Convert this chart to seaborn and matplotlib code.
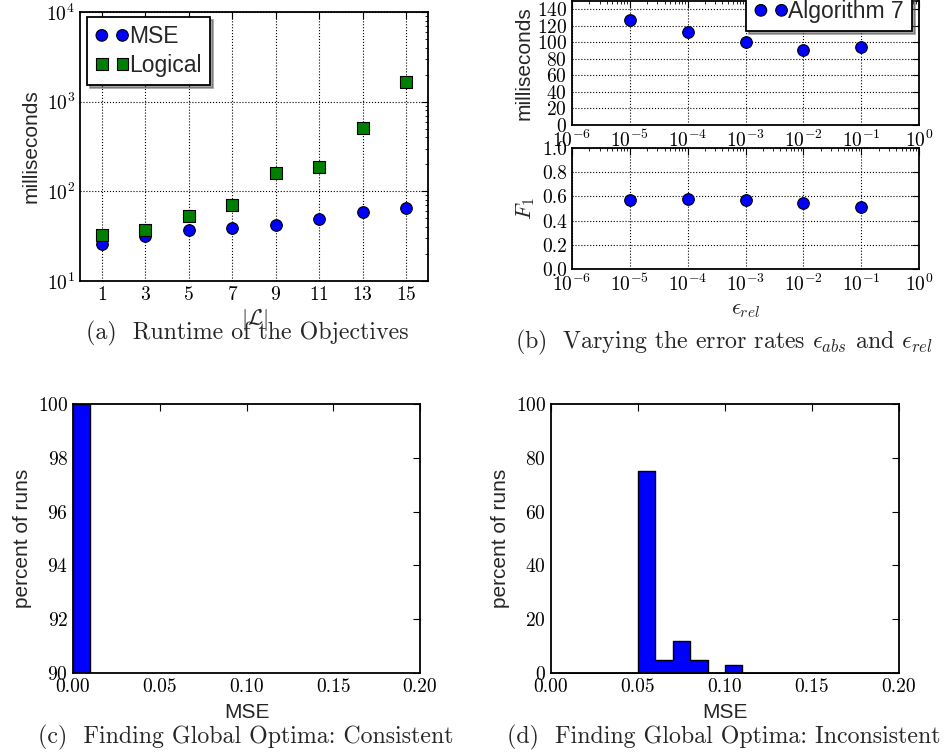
import numpy as np
import pandas as pd
import matplotlib
matplotlib.use("Agg")
import matplotlib.pyplot as plt
import seaborn as sns

# ---------------- data ----------------
n_labels = [1, 3, 5, 7, 9, 11, 13, 15]
mse_ms = [26, 32, 37, 38.7, 41.8, 49, 58.5, 64.7]
logical_ms = [32.4, 37, 53, 70, 162, 189, 511, 1652]

eps_rel = [1e-5, 1e-4, 1e-3, 1e-2, 1e-1]
alg7_ms = [127, 113, 100.5, 90.7, 94.4]
alg7_f1 = [0.571, 0.577, 0.574, 0.544, 0.516]

hist_edges = [0.00, 0.01, 0.02, 0.03, 0.04, 0.05, 0.06, 0.07, 0.08, 0.09, 0.10,
              0.11, 0.12, 0.13, 0.14, 0.15, 0.16, 0.17, 0.18, 0.19, 0.20]
consistent_pct = [100, 0, 0, 0, 0, 0, 0, 0, 0, 0, 0, 0, 0, 0, 0, 0, 0, 0, 0, 0]
inconsistent_pct = [0, 0, 0, 0, 0, 75, 5, 12, 5, 0, 3, 0, 0, 0, 0, 0, 0, 0, 0, 0]

captions = ["(a)  Runtime of the Objectives",
            r"(b)  Varying the error rates $\epsilon_{abs}$ and $\epsilon_{rel}$",
            "(c)  Finding Global Optima: Consistent",
            "(d)  Finding Global Optima: Inconsistent"]

# ---------------- style ----------------
sns.set_style("white")
plt.rcParams.update({
    "font.family": ["cmr10", "DejaVu Serif"],
    "mathtext.fontset": "cm",
    "axes.formatter.use_mathtext": True,
    "axes.unicode_minus": False,
    "xtick.direction": "in", "ytick.direction": "in",
    "xtick.top": True, "ytick.right": True,
    "xtick.major.size": 5, "ytick.major.size": 5,
    "xtick.minor.size": 2.5, "ytick.minor.size": 2.5,
    "xtick.color": "black", "ytick.color": "black",
    "xtick.labelsize": 14, "ytick.labelsize": 14,
    "axes.edgecolor": "black", "axes.linewidth": 1.3,
})
SANS = ["Liberation Sans", "DejaVu Sans"]
LBL = 15
LEG = 16.5

W, H = 948, 756
fig = plt.figure(figsize=(W / 100, H / 100), dpi=100)


def box(l, t, r, b):
    return [l / W, 1 - b / H, (r - l) / W, (b - t) / H]


def grid(ax):
    ax.grid(True, which="major", linestyle=":", color="black", linewidth=0.8)
    ax.set_axisbelow(False)


# ---------------- (a) ----------------
ax_a = fig.add_axes(box(80, 12, 428, 281))
df_a = pd.DataFrame({"L": n_labels, "MSE": mse_ms, "Logical": logical_ms})
sns.scatterplot(data=df_a, x="L", y="MSE", ax=ax_a, marker="o", s=70,
                color="#0000ff", edgecolor="black", linewidth=0.8, label="MSE", zorder=3)
sns.scatterplot(data=df_a, x="L", y="Logical", ax=ax_a, marker="s", s=70,
                color="#008000", edgecolor="black", linewidth=0.8, label="Logical", zorder=3)
ax_a.set_yscale("log")
ax_a.set_ylim(10, 1e4)
ax_a.set_xlim(0, 16)
ax_a.set_xticks(n_labels)
grid(ax_a)
ax_a.set_ylabel("milliseconds", family=SANS, fontsize=LBL)
ax_a.set_xlabel(r"$|\mathcal{L}|$", fontsize=16, labelpad=2)
leg = ax_a.legend(loc="upper left", scatterpoints=2, scatteryoffsets=[0.5],
                  prop={"family": SANS, "size": LEG}, shadow=True, fancybox=False,
                  framealpha=1, edgecolor="black", handletextpad=0.0,
                  handlelength=1.5, borderpad=0.35, labelspacing=0.25,
                  bbox_to_anchor=(0.02, 0.98), borderaxespad=0.0)
leg.get_frame().set_linewidth(1.3)

# ---------------- (b) ----------------
ax_b1 = fig.add_axes(box(572, 1, 919, 125))
ax_b2 = fig.add_axes(box(572, 148, 919, 269))
df_b = pd.DataFrame({"eps": eps_rel, "ms": alg7_ms, "f1": alg7_f1})
sns.scatterplot(data=df_b, x="eps", y="ms", ax=ax_b1, marker="o", s=70,
                color="#0000ff", edgecolor="black", linewidth=0.8,
                label="Algorithm 7", zorder=3)
sns.scatterplot(data=df_b, x="eps", y="f1", ax=ax_b2, marker="o", s=70,
                color="#0000ff", edgecolor="black", linewidth=0.8, zorder=3, legend=False)
for ax in (ax_b1, ax_b2):
    ax.set_xscale("log")
    ax.set_xlim(1e-6, 1e0)
    ax.set_xticks([1e-6, 1e-5, 1e-4, 1e-3, 1e-2, 1e-1, 1e0])
    ax.xaxis.set_minor_locator(matplotlib.ticker.LogLocator(base=10, subs=np.arange(2, 10), numticks=20))
    ax.xaxis.set_minor_formatter(matplotlib.ticker.NullFormatter())
    grid(ax)
ax_b1.set_ylim(0, 150)
ax_b1.set_yticks([0, 20, 40, 60, 80, 100, 120, 140])
ax_b2.set_ylim(0, 1.0)
ax_b2.set_yticks([0.0, 0.2, 0.4, 0.6, 0.8, 1.0])
ax_b2.set_yticklabels(["0.0", "0.2", "0.4", "0.6", "0.8", "1.0"])
ax_b1.set_xlabel("")
ax_b1.set_ylabel("milliseconds", family=SANS, fontsize=LBL, labelpad=2)
ax_b2.set_ylabel(r"$F_1$", fontsize=16)
ax_b2.set_xlabel(r"$\epsilon_{rel}$", fontsize=16)
leg_b = ax_b1.legend(loc="upper right", scatterpoints=2, scatteryoffsets=[0.5],
                     prop={"family": SANS, "size": LEG}, shadow=True, fancybox=False,
                     framealpha=1, edgecolor="black", handletextpad=0.0,
                     handlelength=1.5, borderpad=0.35,
                     bbox_to_anchor=(0.98, 1.07), borderaxespad=0.0)
leg_b.get_frame().set_linewidth(1.3)

# ---------------- (c) & (d) ----------------
centers = [(hist_edges[i] + hist_edges[i + 1]) / 2 for i in range(len(hist_edges) - 1)]
ax_c = fig.add_axes(box(73, 404, 420, 673))
ax_d = fig.add_axes(box(551, 404, 899, 673))
for ax, pct in ((ax_c, consistent_pct), (ax_d, inconsistent_pct)):
    sns.histplot(x=centers, weights=pct, bins=hist_edges, element="step", fill=True,
                 color="#0000ff", alpha=1, edgecolor="black", linewidth=1.0, ax=ax)
    ax.set_xlim(0, 0.2)
    ax.set_xticks([0.0, 0.05, 0.10, 0.15, 0.20])
    ax.set_xticklabels(["0.00", "0.05", "0.10", "0.15", "0.20"])
    ax.set_xlabel("MSE", family=SANS, fontsize=LBL, labelpad=5)
    ax.set_ylabel("percent of runs", family=SANS, fontsize=LBL)
    ax.grid(False)
ax_c.set_ylim(90, 100)
ax_c.set_yticks([90, 92, 94, 96, 98, 100])
ax_d.set_ylim(0, 100)
ax_d.set_yticks([0, 20, 40, 60, 80, 100])

# ---------------- captions ----------------
cap_pos = [(247, 333), (724, 342), (246, 737), (724, 737)]
for (cx, cy), txt in zip(cap_pos, captions):
    fig.text(cx / W, 1 - cy / H, txt, ha="center", va="center", fontsize=17.2)

fig.savefig("out.png", dpi=100)
